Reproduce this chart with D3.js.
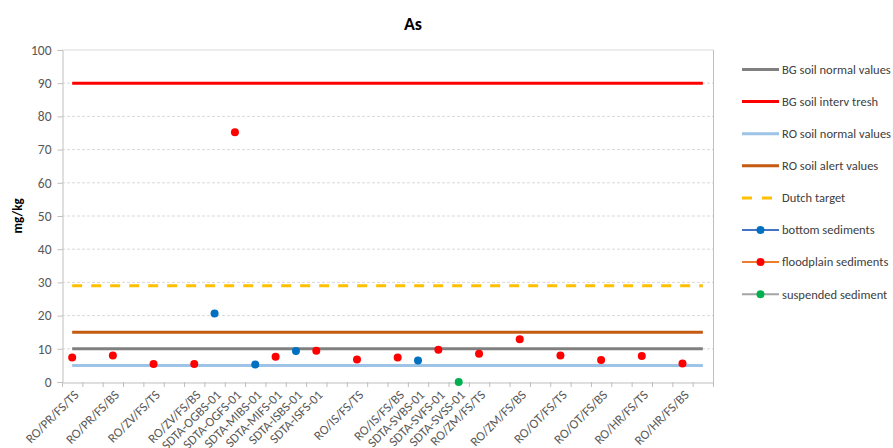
<!DOCTYPE html>
<html><head><meta charset="utf-8">
<script src="https://cdn.jsdelivr.net/npm/d3@7"></script>
<style>body{margin:0;background:#fff}svg{display:block;font-family:Carlito,Lato,sans-serif}</style>
</head><body><svg id="c" width="893" height="448"></svg>
<script>
const categories = ["RO/PR/FS/TS","","RO/PR/FS/BS","","RO/ZV/FS/TS","","RO/ZV/FS/BS","SDTA-OGBS-01","SDTA-OGFS-01","SDTA-MIBS-01","SDTA-MIFS-01","SDTA-ISBS-01","SDTA-ISFS-01","","RO/IS/FS/TS","","RO/IS/FS/BS","SDTA-SVBS-01","SDTA-SVFS-01","SDTA-SVSS-01","RO/ZM/FS/TS","","RO/ZM/FS/BS","","RO/OT/FS/TS","","RO/OT/FS/BS","","RO/HR/FS/TS","","RO/HR/FS/BS",""];
const bottomSediments = [null,null,null,null,null,null,null,20.6,null,5.3,null,9.3,null,null,null,null,null,6.5,null,null,null,null,null,null,null,null,null,null,null,null,null,null];
const floodplainSediments = [7.4,null,8.0,null,5.4,null,5.4,null,75.2,null,7.6,null,9.4,null,6.8,null,7.4,null,9.7,null,8.5,null,12.9,null,8.0,null,6.6,null,7.8,null,5.6,null];
const suspendedSediment = [null,null,null,null,null,null,null,null,null,null,null,null,null,null,null,null,null,null,null,0,null,null,null,null,null,null,null,null,null,null,null,null];
const thresholdNames = ["BG soil normal values","BG soil interv tresh","RO soil normal values","RO soil alert values","Dutch target"];
const thresholdValues = [10, 90, 5, 15, 29];
const yTicks = [0,10,20,30,40,50,60,70,80,90,100];

const thresholdStyles = [
  {color:"#808080", dash:null},
  {color:"#FF0000", dash:null},
  {color:"#9DC3E6", dash:null},
  {color:"#C55A11", dash:null},
  {color:"#FFC000", dash:"10,9"}
];
const pointSeries = [
  {name:"bottom sediments", values:bottomSediments, fill:"#0070C0", line:"#4472C4"},
  {name:"floodplain sediments", values:floodplainSediments, fill:"#FF0000", line:"#ED7D31"},
  {name:"suspended sediment", values:suspendedSediment, fill:"#00B050", line:"#A5A5A5"}
];

const svg = d3.select("#c");
const L = 62, R = 713, T = 50, B = 382;
const x = d3.scaleBand().domain(d3.range(categories.length)).range([L, R]).padding(0);
const cx = i => x(i) + x.bandwidth()/2;
const y = d3.scaleLinear().domain([0,100]).range([B, T]);

// gridlines
svg.append("g").selectAll("line").data(yTicks.filter(t => t>0 && t<100)).join("line")
  .attr("x1", L).attr("x2", R).attr("y1", d=>y(d)).attr("y2", d=>y(d))
  .attr("stroke","#D9D9D9").attr("stroke-width",1).attr("stroke-dasharray","3,2");
// plot border top/right
svg.append("line").attr("x1",L).attr("x2",R).attr("y1",y(100)).attr("y2",y(100)).attr("stroke","#D9D9D9");
svg.append("line").attr("x1",R+0.5).attr("x2",R+0.5).attr("y1",y(100)).attr("y2",B).attr("stroke","#BFBFBF");

// y axis
const yAxis = svg.append("g").attr("transform",`translate(${L+0.5},0)`)
  .call(d3.axisLeft(y).tickValues(yTicks).tickSize(5).tickPadding(6));
yAxis.select(".domain").attr("stroke","#BFBFBF");
yAxis.selectAll(".tick line").attr("stroke","#BFBFBF");
yAxis.selectAll("text").attr("fill","#595959").style("font-size","13.5px").style("font-family","Carlito,Lato,sans-serif");

// x axis
const xAxis = svg.append("g").attr("transform",`translate(0,${B+0.5})`)
  .call(d3.axisBottom(x).tickSize(0).tickFormat(i => categories[i]));
xAxis.select(".domain").attr("stroke","#BFBFBF");
xAxis.selectAll(".tick text")
  .attr("fill","#595959").style("font-size","13px").style("font-family","Carlito,Lato,sans-serif")
  .attr("text-anchor","end").attr("dy","0.35em")
  .attr("transform","translate(4,10) rotate(-45)").attr("x",0).attr("y",0);
svg.append("g").selectAll("line").data(d3.range(categories.length+1)).join("line")
  .attr("x1", i => (i<categories.length? x(i) : R)+0.5).attr("x2", i => (i<categories.length? x(i) : R)+0.5)
  .attr("y1", B).attr("y2", B+5).attr("stroke","#BFBFBF");

// threshold lines
const line = d3.line().x(d=>cx(d.i)).y(d=>y(d.v));
thresholdValues.forEach((v,k) => {
  const pts = categories.map((c,i)=>({i, v}));
  svg.append("path").datum(pts).attr("d", line).attr("fill","none")
    .attr("stroke", thresholdStyles[k].color).attr("stroke-width",3)
    .attr("stroke-dasharray", thresholdStyles[k].dash);
});

// points
pointSeries.forEach(s => {
  svg.append("g").selectAll("circle")
    .data(s.values.map((v,i)=>({i,v})).filter(d=>d.v!==null)).join("circle")
    .attr("cx", d=>cx(d.i)).attr("cy", d=>y(d.v)).attr("r",4).attr("fill", s.fill);
});

// title
svg.append("text").attr("x",413).attr("y",30).attr("text-anchor","middle")
  .style("font-size","18px").style("font-weight","bold").attr("fill","#000").text("As");
// y label
svg.append("text").attr("transform","translate(22,216) rotate(-90)").attr("text-anchor","middle")
  .style("font-size","13px").style("font-weight","bold").attr("fill","#000").text("mg/kg");

// legend
const lg = svg.append("g");
const rowY = i => 69.5 + i*32.1;
thresholdNames.forEach((n,k) => {
  lg.append("line").attr("x1",742).attr("x2",779).attr("y1",rowY(k)).attr("y2",rowY(k))
    .attr("stroke",thresholdStyles[k].color).attr("stroke-width",3)
    .attr("stroke-dasharray", thresholdStyles[k].dash ? "10,10" : null);
  lg.append("text").attr("x",782).attr("y",rowY(k)).attr("dy","0.35em")
    .style("font-size","12.5px").attr("fill","#404040").text(n);
});
pointSeries.forEach((s,j) => {
  const k = thresholdNames.length + j;
  lg.append("line").attr("x1",742).attr("x2",779).attr("y1",rowY(k)).attr("y2",rowY(k))
    .attr("stroke",s.line).attr("stroke-width",2);
  lg.append("circle").attr("cx",760.5).attr("cy",rowY(k)).attr("r",4).attr("fill",s.fill);
  lg.append("text").attr("x",782).attr("y",rowY(k)).attr("dy","0.35em")
    .style("font-size","12.5px").attr("fill","#404040").text(s.name);
});
</script></body></html>
